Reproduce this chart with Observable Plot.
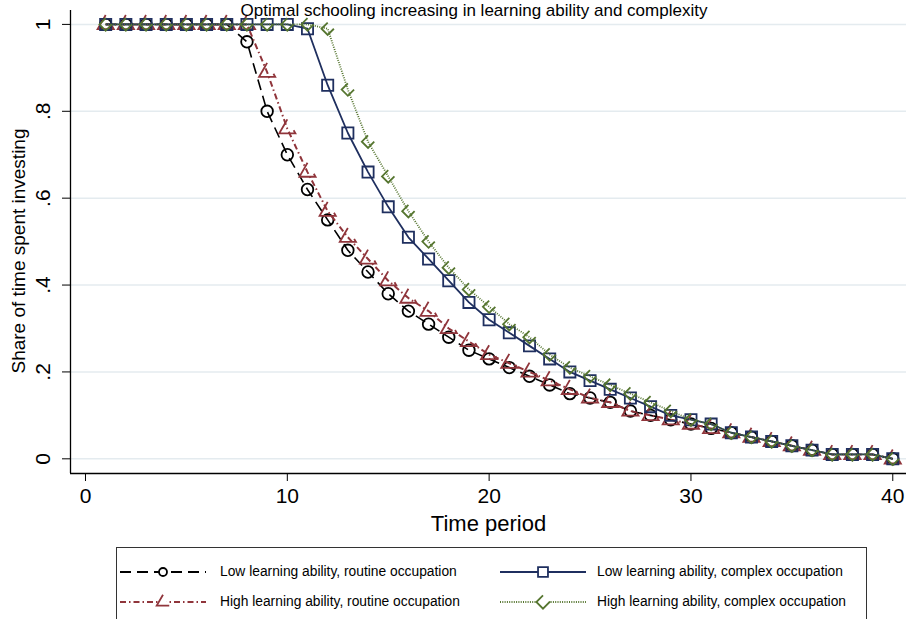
<!DOCTYPE html>
<html><head><meta charset="utf-8">
<script src="https://cdn.jsdelivr.net/npm/d3@7"></script>
<script src="https://cdn.jsdelivr.net/npm/@observablehq/plot@0.6"></script>
<style>
html,body{margin:0;padding:0;background:#fff;}
body{width:910px;height:619px;overflow:hidden;position:relative;font-family:"Liberation Sans",Arial,Helvetica,sans-serif;color:#000;}
#title{position:absolute;left:0;top:1px;width:948px;text-align:center;font-size:17px;line-height:20px;white-space:nowrap;z-index:2;}
#chart{position:absolute;left:0;top:0;}
#legend{position:absolute;left:116px;top:547px;width:751px;height:100px;border:1px solid #333;box-sizing:border-box;}
.key{position:absolute;}
.lab{position:absolute;font-size:13.8px;line-height:16px;white-space:nowrap;}
</style></head><body>
<div id="chart"></div>
<div id="title"></div>
<div id="legend"></div>
<script>
// ---- data ----
const periods = [1,2,3,4,5,6,7,8,9,10,11,12,13,14,15,16,17,18,19,20,21,22,23,24,25,26,27,28,29,30,31,32,33,34,35,36,37,38,39,40];
const lowRoutine  = [1,1,1,1,1,1,1,0.96,0.80,0.70,0.62,0.55,0.48,0.43,0.38,0.34,0.31,0.28,0.25,0.23,0.21,0.19,0.17,0.15,0.14,0.13,0.11,0.10,0.09,0.08,0.07,0.06,0.05,0.04,0.03,0.02,0.01,0.01,0.01,0.00];
const highRoutine = [1,1,1,1,1,1,1,1,0.89,0.76,0.66,0.57,0.51,0.46,0.41,0.37,0.34,0.30,0.27,0.24,0.22,0.20,0.18,0.16,0.14,0.13,0.11,0.10,0.09,0.08,0.07,0.06,0.05,0.04,0.03,0.02,0.01,0.01,0.01,0.00];
const lowComplex  = [1,1,1,1,1,1,1,1,1,1,0.99,0.86,0.75,0.66,0.58,0.51,0.46,0.41,0.36,0.32,0.29,0.26,0.23,0.20,0.18,0.16,0.14,0.12,0.10,0.09,0.08,0.06,0.05,0.04,0.03,0.02,0.01,0.01,0.01,0.00];
const highComplex = [1,1,1,1,1,1,1,1,1,1,1,0.99,0.85,0.73,0.65,0.57,0.50,0.44,0.39,0.35,0.31,0.28,0.24,0.21,0.19,0.17,0.15,0.13,0.11,0.09,0.08,0.06,0.05,0.04,0.03,0.02,0.01,0.01,0.01,0.00];
const seriesNames = [
  "Low learning ability, routine occupation",
  "High learning ability, routine occupation",
  "Low learning ability, complex occupation",
  "High learning ability, complex occupation"
];
const xTicks = [0,10,20,30,40];
const yTicks = [0,0.2,0.4,0.6,0.8,1];
const yTickLabels = ["0",".2",".4",".6",".8","1"];
const titleText = "Optimal schooling increasing in learning ability and complexity";
const xTitle = "Time period";
const yTitle = "Share of time spent investing";

// ---- styles ----
const styles = [
  {color:"#000000", dash:"11,6", lw:1.6, symbol:"circle", r:5.8, mdash:null},
  {color:"#90353b", dash:"6,3,1.5,3", lw:2, symbol:"triangle", r:6, mdash:"0,12.6,30"},
  {color:"#1f2f5f", dash:null, lw:1.8, symbol:"square", r:6.3, mdash:null},
  {color:"#55752f", dash:"1,1.3", lw:1.8, symbol:"diamond2", r:5.6, mdash:"0,8.8,30"}
];
const seriesValues = [lowRoutine, highRoutine, lowComplex, highComplex];

const rows = [];
seriesValues.forEach((vals, k) => periods.forEach((t, i) => rows.push({t, v: vals[i], k, name: seriesNames[k]})));

const xDomain = [-0.743, 40.68];
const yDomain = [-0.0338, 1.032];
const yLabelMap = new Map(yTicks.map((d,i)=>[d, yTickLabels[i]]));

const marks = [
  Plot.gridY(yTicks, {stroke:"#e4ebef", strokeOpacity:1, strokeWidth:1.5})
];
styles.forEach((st, k) => {
  const data = rows.filter(r => r.k === k);
  marks.push(Plot.line(data, {x:"t", y:"v", stroke:st.color, strokeWidth:st.lw, strokeDasharray:st.dash, strokeLinecap:"butt", strokeLinejoin:"round"}));
  marks.push(Plot.dot(data, {x:"t", y:"v", symbol:st.symbol, r:st.r, stroke:st.color, fill:"none", strokeWidth:1.8, strokeDasharray:st.mdash, strokeLinecap:"butt"}));
});
marks.push(
  Plot.ruleX([xDomain[0]], {stroke:"#000", strokeWidth:1.3}),
  Plot.ruleY([yDomain[0]], {stroke:"#000", strokeWidth:1.3}),
  Plot.axisX({ticks:xTicks, tickSize:8, tickPadding:7, fontSize:21, label:null, tickFormat:d=>String(d), stroke:"#000"}),
  Plot.axisY({ticks:yTicks, tickSize:8, tickPadding:19, fontSize:21, label:null, tickFormat:d=>yLabelMap.get(d), tickRotate:-90, textAnchor:"middle", lineAnchor:"middle"}),
  Plot.text([xTitle], {frameAnchor:"bottom", dy:50, fontSize:22, lineAnchor:"middle", textAnchor:"middle"}),
  Plot.text([yTitle], {frameAnchor:"left", dx:-51.5, dy:9, rotate:-90, fontSize:19, lineAnchor:"middle", textAnchor:"middle"})
);

const chart = Plot.plot({
  width:910, height:545,
  marginLeft:70, marginRight:4, marginTop:10, marginBottom:72,
  x:{domain:xDomain},
  y:{domain:yDomain},
  style:{fontFamily:"'Liberation Sans', Arial, Helvetica, sans-serif", background:"#fff", color:"#000", overflow:"visible"},
  marks
});
document.getElementById("chart").appendChild(chart);
document.getElementById("title").textContent = titleText;

// ---- legend ----
const legend = d3.select("#legend");
const legendPos = [
  {kx:3, tx:103, cy:23.7},
  {kx:3, tx:103, cy:54.3},
  {kx:383, tx:480, cy:23.7},
  {kx:383, tx:480, cy:54.3}
];
const legendR = [4, 6, 5.6, 6];
const symMap = {circle:d3.symbolCircle, triangle:d3.symbolTriangle2, square:d3.symbolSquare, diamond2:d3.symbolDiamond2};
styles.forEach((st, k) => {
  const p = legendPos[k];
  const svg = legend.append("svg").attr("class","key").attr("width",88).attr("height",20)
    .style("left", p.kx+"px").style("top", (p.cy-10)+"px");
  svg.append("line").attr("x1",0).attr("x2",86).attr("y1",10).attr("y2",10)
    .attr("stroke",st.color).attr("stroke-width",st.lw+0.2).attr("stroke-dasharray",st.dash);
  const rr = legendR[k];
  svg.append("path").attr("transform","translate(43,10)")
    .attr("d", d3.symbol(symMap[st.symbol], Math.PI*rr*rr)())
    .attr("fill","#fff").attr("stroke",st.color).attr("stroke-width",1.8)
    .attr("stroke-dasharray",st.mdash);
  legend.append("div").attr("class","lab").style("left",p.tx+"px").style("top",(p.cy-8)+"px").text(seriesNames[k]);
});
</script>
</body></html>
